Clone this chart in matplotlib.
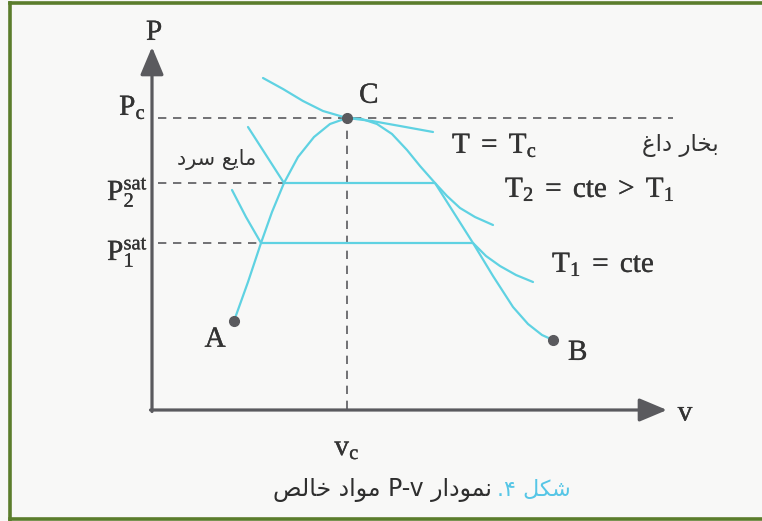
import numpy as np
import matplotlib.pyplot as plt
import matplotlib.patheffects as pe
from matplotlib.lines import Line2D

plt.rcParams['mathtext.fontset'] = 'custom'
plt.rcParams['mathtext.rm'] = 'Liberation Serif'
plt.rcParams['mathtext.it'] = 'Liberation Serif:italic'
plt.rcParams['mathtext.bf'] = 'Liberation Serif:bold'

# saturation dome (specific volume v, pressure P), arbitrary units
liquid_v = [1.64, 1.92, 2.18, 2.40, 2.64, 2.92, 3.24, 3.56, 3.90]
liquid_p = [1.78, 2.56, 3.34, 3.96, 4.54, 5.06, 5.46, 5.72, 5.84]
vapor_v = [3.90, 4.20, 4.50, 4.80, 5.10, 5.36, 5.66, 6.04, 6.42, 6.82, 7.22, 7.52, 7.80, 8.02]
vapor_p = [5.84, 5.82, 5.72, 5.52, 5.20, 4.88, 4.54, 3.94, 3.34, 2.68, 2.06, 1.72, 1.50, 1.40]

# critical isotherm
tc_v = [2.22, 2.62, 3.02, 3.42, 3.90, 4.40, 4.96, 5.62]
tc_p = [6.64, 6.42, 6.18, 5.98, 5.84, 5.78, 5.68, 5.56]

# isotherm T2
t2_v = [1.92, 2.28, 2.64, 5.66, 5.90, 6.16, 6.46, 6.82]
t2_p = [5.66, 5.10, 4.54, 4.54, 4.28, 4.04, 3.86, 3.70]

# isotherm T1
t1_v = [1.60, 1.88, 2.18, 6.42, 6.68, 6.96, 7.28, 7.62]
t1_p = [4.40, 3.86, 3.34, 3.34, 3.08, 2.88, 2.70, 2.56]

# named states
pt_names = ['A', 'B', 'C']
pt_v = [1.64, 8.02, 3.90]
pt_p = [1.78, 1.40, 5.84]

v_c, p_c = 3.90, 5.84
p2_sat, p1_sat = 4.54, 3.34

# persian labels, already shaped and in visual order
liquid_label = '\uFEA9\uFEAE\uFEB3 \uFECA\uFEF3\uFE8E\uFEE3'
vapor_label = '\uFECD\uFE8D\uFEA9 \uFEAD\uFE8E\uFEA8\uFE91'
caption_main = ('\uFEBA\uFEDF\uFE8E\uFEA7 \uFEA9\uFE8D\uFEEE\uFEE3 P-v '
                '\uFEAD\uFE8D\uFEA9\uFEEE\uFEE4\uFEE7')
caption_num = '.\u06F4 \uFEDE\uFB91\uFEB7'

cyan = '#5fd2e2'
ink = '#5a5a5e'
txt = '#333333'

fig = plt.figure(figsize=(7.62, 5.21), dpi=100, facecolor='#f8f8f7')
ax = fig.add_axes([0, 0, 1, 1])
ax.set_xlim(-3.04, 12.2)
ax.set_ylim(-2.22, 8.2)
ax.axis('off')

# frame
for xs, ys in [([0.0135, 0.0135], [0, 0.995]), ([0.0135, 1], [0.994, 0.994]),
               ([0.0135, 1], [0.003, 0.003])]:
    fig.add_artist(Line2D(xs, ys, transform=fig.transFigure, color='#5b7d2c', lw=2.6))

# axes with arrows
arrow = dict(arrowstyle='-|>,head_length=1.0,head_width=0.42', color=ink, lw=2.3,
             mutation_scale=17, shrinkA=0, shrinkB=0)
ax.annotate('', xy=(0, 7.26), xytext=(0, -0.03), arrowprops=arrow)
ax.annotate('', xy=(10.3, 0), xytext=(-0.03, 0), arrowprops=arrow)

# dashed guides
dash = dict(color=ink, lw=1.2, ls=(0, (5, 4)))
ax.plot([0.12, 10.42], [p_c, p_c], **dash)
ax.plot([v_c, v_c], [0.03, p_c], **dash)
ax.plot([0.12, 2.64], [p2_sat, p2_sat], **dash)
ax.plot([0.12, 2.18], [p1_sat, p1_sat], **dash)

# curves
for v, p in [(liquid_v, liquid_p), (vapor_v, vapor_p), (tc_v, tc_p),
             (t2_v, t2_p), (t1_v, t1_p)]:
    ax.plot(v, p, color=cyan, lw=1.6, solid_joinstyle='round', solid_capstyle='round')

ax.plot(pt_v, pt_p, 'o', color=ink, ms=7, zorder=5)

heavy = [pe.withStroke(linewidth=0.25, foreground=txt)]
serif = dict(color=txt, fontsize=21, path_effects=heavy)
ax.text(0.05, 7.4, r'$\mathrm{P}$', ha='center', va='baseline', **serif)
ax.text(10.68, -0.05, r'$\mathrm{v}$', ha='center', va='center', **serif)
ax.text(-0.12, 5.9, r'$\mathrm{P_c}$', ha='right', va='baseline', **serif)
ax.text(-0.08, 4.2, r'$\mathrm{P_2^{sat}}$', ha='right', va='baseline', **serif)
ax.text(-0.08, 3.0, r'$\mathrm{P_1^{sat}}$', ha='right', va='baseline', **serif)
ax.text(v_c, -0.9, r'$\mathrm{v_c}$', ha='center', va='baseline', **serif)
offsets = {'A': (-0.36, -0.52), 'B': (0.5, -0.4), 'C': (0.44, 0.3)}
for name, v, p in zip(pt_names, pt_v, pt_p):
    dv, dp = offsets[name]
    ax.text(v + dv, p + dp, r'$\mathrm{%s}$' % name, ha='center', va='baseline', **serif)

ax.text(6.0, 5.14, r'$\mathrm{T\ =\ T_c}$', ha='left', va='baseline', **serif)
ax.text(7.06, 4.26, r'$\mathrm{T_2\ =\ cte\ >\ T_1}$', ha='left', va='baseline', **serif)
ax.text(8.0, 2.76, r'$\mathrm{T_1\ =\ cte}$', ha='left', va='baseline', **serif)

fa = dict(family=['DejaVu Sans'], color=txt)
ax.text(1.3, 4.9, liquid_label, ha='center', va='baseline', fontsize=15, **fa)
ax.text(10.56, 5.18, vapor_label, ha='center', va='baseline', fontsize=16.5, **fa)

ax.text(6.8, -1.6, caption_main, ha='right', va='center', family=['DejaVu Sans'],
        color='#2e2e2e', fontsize=17)
ax.text(6.9, -1.6, caption_num, ha='left', va='center', family=['DejaVu Sans'],
        color='#56c6e6', fontsize=16)

fig.savefig('out.png', dpi=100, facecolor=fig.get_facecolor())
